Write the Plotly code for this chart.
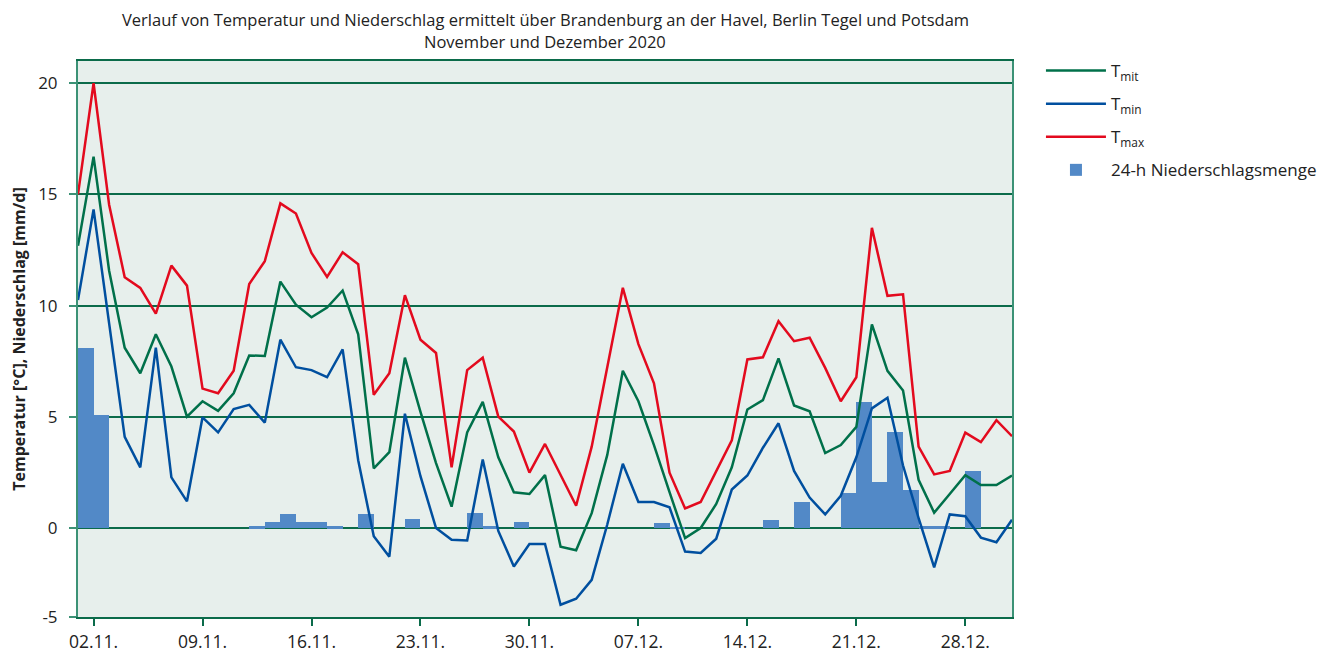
import pandas as pd
import plotly.graph_objects as go

# ---------------- data ----------------
dates = pd.date_range("2020-11-01", "2020-12-31", freq="D")

t_max = [15.0, 20.0, 14.54, 11.28, 10.8, 9.64, 11.8, 10.9, 6.27, 6.06,
         7.07, 10.97, 12.0, 14.6, 14.14, 12.37, 11.29, 12.4, 11.86, 5.99,
         6.96, 10.47, 8.47, 7.87, 2.73, 7.1, 7.66, 5.01, 4.34, 2.49,
         3.78, 2.38, 1.0, 3.66, 7.23, 10.8, 8.27, 6.51, 2.49, 0.88,
         1.17, 2.54, 3.94, 7.58, 7.68, 9.3, 8.4, 8.56, 7.2, 5.7,
         6.78, 13.5, 10.44, 10.51, 3.66, 2.41, 2.57, 4.29, 3.86, 4.85,
         4.13]

t_mit = [12.69, 16.7, 11.57, 8.11, 6.96, 8.71, 7.26, 5.01, 5.7, 5.27,
         6.06, 7.76, 7.74, 11.08, 10.04, 9.48, 9.91, 10.68, 8.71, 2.68,
         3.41, 7.66, 5.22, 2.92, 0.96, 4.3, 5.67, 3.18, 1.61, 1.53,
         2.38, -0.84, -1.0, 0.67, 3.29, 7.07, 5.7, 3.73, 1.61, -0.45,
         0.0, 1.08, 2.73, 5.33, 5.75, 7.63, 5.51, 5.25, 3.37, 3.73,
         4.55, 9.16, 7.07, 6.18, 2.17, 0.69, 1.53, 2.38, 1.93, 1.93,
         2.36]

t_min = [10.25, 14.33, 9.2, 4.1, 2.73, 8.11, 2.28, 1.2, 4.98, 4.3,
         5.35, 5.54, 4.74, 8.47, 7.23, 7.1, 6.78, 8.03, 3.05, -0.37,
         -1.29, 5.14, 2.33, 0.0, -0.53, -0.56, 3.08, -0.13, -1.73, -0.72,
         -0.72, -3.45, -3.18, -2.33, 0.16, 2.89, 1.17, 1.17, 0.93, -1.06,
         -1.12, -0.48, 1.73, 2.36, 3.61, 4.71, 2.57, 1.37, 0.61, 1.45,
         3.18, 5.38, 5.86, 2.81, 0.45, -1.77, 0.61, 0.53, -0.43, -0.64,
         0.37]

niederschlag = [8.1, 5.1, 0, 0, 0, 0, 0, 0, 0, 0,
                0, 0.08, 0.26, 0.63, 0.26, 0.26, 0.08, 0, 0.63, 0,
                0, 0.4, 0, 0, 0, 0.67, 0.08, 0, 0.26, 0,
                0, 0, 0, 0, 0, 0, 0, 0.24, 0.06, 0,
                0, 0, 0, 0, 0.35, 0, 1.16, 0, 0, 1.57,
                5.65, 2.09, 4.31, 1.70, 0.08, 0.08, 0, 2.55, 0, 0,
                0]

x_tick_dates = ["2020-11-02", "2020-11-09", "2020-11-16", "2020-11-23", "2020-11-30",
                "2020-12-07", "2020-12-14", "2020-12-21", "2020-12-28"]
y_tick_vals = [-4, 0, 5, 10, 15, 20]
y_tick_text = ["-5", "0", "5", "10", "15", "20"]

title_line1 = "Verlauf von Temperatur und Niederschlag ermittelt über Brandenburg an der Havel, Berlin Tegel und Potsdam"
title_line2 = "November und Dezember 2020"

# ---------------- styles ----------------
C_MIT = "#00704a"
C_MIN = "#004f9f"
C_MAX = "#e30a1e"
C_BAR = "#5289c7"
C_GRID = "#0b6b4a"
C_AXIS = "#3c9276"
FONT = "Open Sans"
TXT = "#222222"

fig = go.Figure()
fig.add_trace(go.Scatter(x=dates, y=t_mit, mode="lines", name="T<sub>mit</sub>",
                         line=dict(color=C_MIT, width=2.5), legendgroup="a"))
fig.add_trace(go.Scatter(x=dates, y=t_min, mode="lines", name="T<sub>min</sub>",
                         line=dict(color=C_MIN, width=2.5), legendgroup="b"))
fig.add_trace(go.Scatter(x=dates, y=t_max, mode="lines", name="T<sub>max</sub>",
                         line=dict(color=C_MAX, width=2.5), legendgroup="c"))
fig.add_trace(go.Bar(x=dates, y=niederschlag, name="24-h Niederschlagsmenge",
                     marker=dict(color=C_BAR, line=dict(width=0)),
                     width=86400000, offset=0, legendgroup="d"))

PLOT_TOP = 53
PLOT_H = 556

def paper_y(fig_px):
    return 1 + (PLOT_TOP - fig_px) / PLOT_H

fig.update_layout(
    width=1320, height=647,
    margin=dict(l=70, r=316, t=PLOT_TOP, b=38, autoexpand=False),
    paper_bgcolor="white",
    plot_bgcolor="#e7efec",
    font=dict(family=FONT, size=15, color=TXT),
    showlegend=True,
    legend=dict(
        x=1.031, xanchor="left", y=paper_y(45), yanchor="top",
        font=dict(family=FONT, size=17, color=TXT),
        tracegroupgap=8, itemwidth=60,
        bgcolor="rgba(0,0,0,0)",
    ),
    bargap=0,
    annotations=[
        dict(text=title_line1, xref="paper", yref="paper", x=0.5, y=paper_y(11.5),
             xanchor="center", yanchor="middle", showarrow=False,
             font=dict(family=FONT, size=16.5, color=TXT)),
        dict(text=title_line2, xref="paper", yref="paper", x=0.5, y=paper_y(33.5),
             xanchor="center", yanchor="middle", showarrow=False,
             font=dict(family=FONT, size=16.5, color=TXT)),
    ],
)

fig.update_xaxes(
    type="date",
    range=["2020-11-01", "2020-12-31"],
    tickvals=x_tick_dates, tickformat="%d.%m.",
    ticks="outside", ticklen=7, tickwidth=1.5, tickcolor=C_GRID,
    showline=True, linecolor=C_GRID, linewidth=2, mirror=True,
    showgrid=False, zeroline=False, automargin=False,
    ticklabelstandoff=1,
    tickfont=dict(family=FONT, size=17.5, color=TXT),
)
fig.update_yaxes(
    range=[-4, 21],
    tickvals=y_tick_vals, ticktext=y_tick_text,
    ticks="outside", ticklen=7, tickwidth=1.5, tickcolor=C_AXIS,
    showline=True, linecolor=C_AXIS, linewidth=2, mirror=True,
    showgrid=True, gridcolor=C_GRID, gridwidth=1.5,
    zeroline=False, automargin=False,
    ticklabelstandoff=8,
    tickfont=dict(family=FONT, size=17, color=TXT),
    title=dict(text="<b>Temperatur [°C], Niederschlag [mm/d]</b>",
               font=dict(family=FONT, size=16, color=TXT), standoff=12),
)

fig.write_html("out.html")
